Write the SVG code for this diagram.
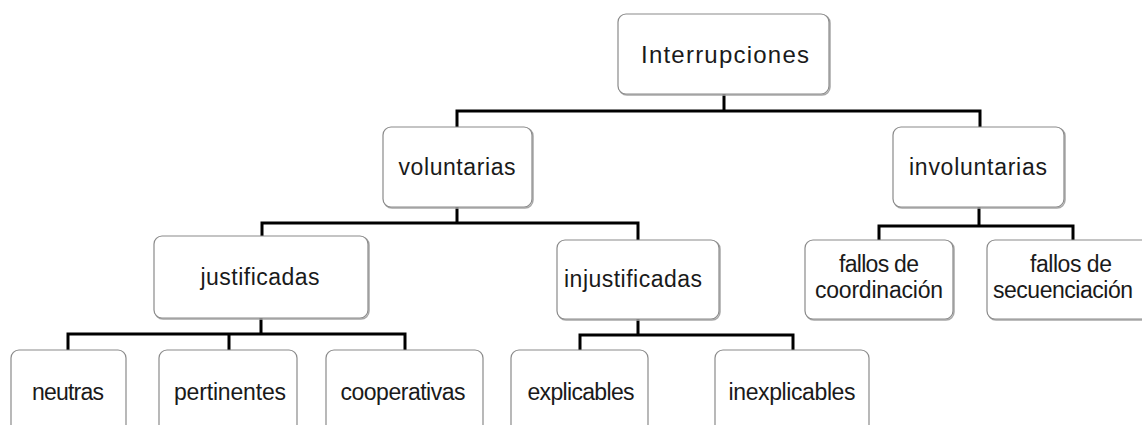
<svg xmlns="http://www.w3.org/2000/svg" width="1142" height="425" viewBox="0 0 1142 425">
<style>
.box{fill:#fff;stroke:#8a8a8a;stroke-width:1.2}
.sh{fill:none;stroke:#a8a8a8;stroke-width:1.5}
.t{font-family:"Liberation Sans",Arial,sans-serif;font-size:23px;fill:#1a1a1a;text-anchor:middle}
.big{font-size:24px}
.c{fill:none;stroke:#000;stroke-width:3;stroke-linecap:square}
</style>
<rect width="1142" height="425" fill="#fff"/>
<g id="connectors">
<path class="c" d="M724 95 V111 M457 126 V111 H980 V126"/>
<path class="c" d="M457 207 V223 M262 235 V223 H638 V239"/>
<path class="c" d="M979 207 V226 M879 239 V226 H1073 V239"/>
<path class="c" d="M261 318 V334 M68 349 V334 H405 V349 M229 334 V349"/>
<path class="c" d="M638 319 V335 M580 349 V335 H793 V349"/>
</g>
<g id="n-interrupciones"><rect class="sh" x="619" y="15" width="211" height="80" rx="8"/><rect class="box" x="618" y="14" width="211" height="80" rx="8"/><text class="t big" x="725" y="63" textLength="168" lengthAdjust="spacing">Interrupciones</text></g>
<g id="n-voluntarias"><rect class="sh" x="384" y="128" width="149" height="80" rx="8"/><rect class="box" x="383" y="127" width="149" height="80" rx="8"/><text class="t" x="457" y="175" textLength="117" lengthAdjust="spacing">voluntarias</text></g>
<g id="n-involuntarias"><rect class="sh" x="894" y="128" width="171" height="80" rx="8"/><rect class="box" x="893" y="127" width="171" height="80" rx="8"/><text class="t" x="978" y="175" textLength="138" lengthAdjust="spacing">involuntarias</text></g>
<g id="n-justificadas"><rect class="sh" x="155" y="237" width="214" height="82" rx="8"/><rect class="box" x="154" y="236" width="214" height="82" rx="8"/><text class="t" x="260" y="285" textLength="119" lengthAdjust="spacing">justificadas</text></g>
<g id="n-injustificadas"><rect class="sh" x="558" y="241" width="162" height="79" rx="8"/><rect class="box" x="557" y="240" width="162" height="79" rx="8"/><text class="t" x="633" y="287" textLength="138" lengthAdjust="spacing">injustificadas</text></g>
<g id="n-fallos-coordinacion"><rect class="sh" x="806" y="241" width="148" height="79" rx="8"/><rect class="box" x="805" y="240" width="148" height="79" rx="8"/><text class="t" x="879" y="272" textLength="80" lengthAdjust="spacing">fallos de</text><text class="t" x="879" y="298" textLength="128" lengthAdjust="spacing">coordinación</text></g>
<g id="n-fallos-secuenciacion"><rect class="sh" x="988" y="241" width="180" height="79" rx="8"/><rect class="box" x="987" y="240" width="180" height="79" rx="8"/><text class="t" x="1071" y="272" textLength="82" lengthAdjust="spacing">fallos de</text><text class="t" x="1063" y="298" textLength="140" lengthAdjust="spacing">secuenciación</text></g>
<g id="n-neutras"><rect class="box" x="11" y="350" width="115" height="90" rx="8"/><text class="t" x="68" y="400" textLength="72" lengthAdjust="spacing">neutras</text></g>
<g id="n-pertinentes"><rect class="box" x="159" y="350" width="138" height="90" rx="8"/><text class="t" x="230" y="400" textLength="112" lengthAdjust="spacing">pertinentes</text></g>
<g id="n-cooperativas"><rect class="box" x="326" y="350" width="157" height="90" rx="8"/><text class="t" x="403" y="400" textLength="125" lengthAdjust="spacing">cooperativas</text></g>
<g id="n-explicables"><rect class="box" x="511" y="350" width="137" height="90" rx="8"/><text class="t" x="581" y="400" textLength="107" lengthAdjust="spacing">explicables</text></g>
<g id="n-inexplicables"><rect class="box" x="715" y="350" width="154" height="90" rx="8"/><text class="t" x="792" y="400" textLength="127" lengthAdjust="spacing">inexplicables</text></g>
</svg>
